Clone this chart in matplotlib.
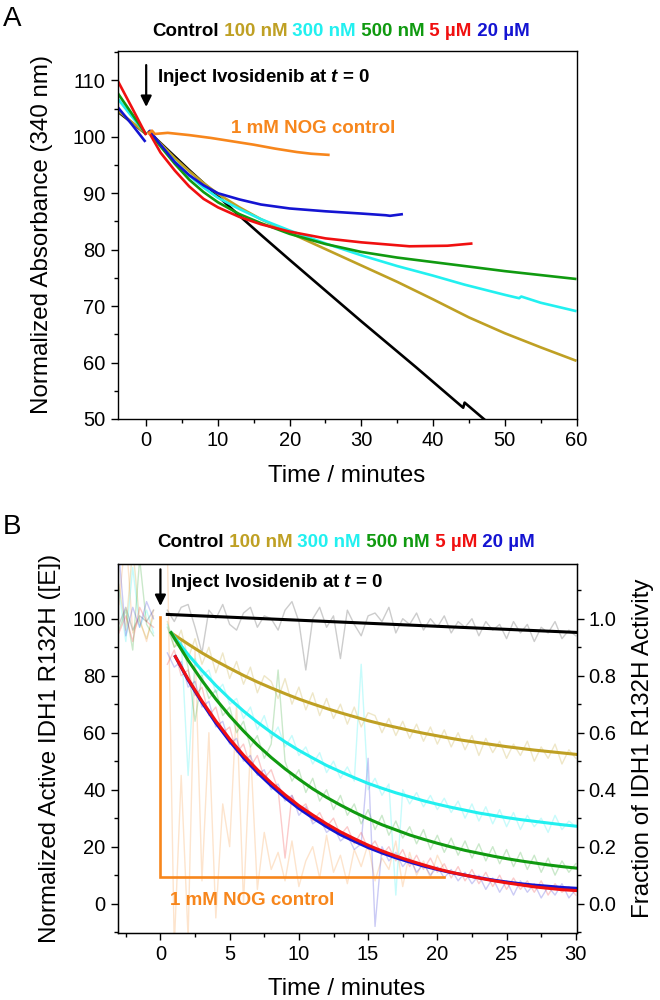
import numpy as np
import matplotlib
matplotlib.use("Agg")
from matplotlib import pyplot as plt
from matplotlib.ticker import MultipleLocator, FormatStrFormatter

plt.rcParams['font.family'] = ['Liberation Sans', 'DejaVu Sans']
plt.rcParams['mathtext.fontset'] = 'custom'
plt.rcParams['mathtext.rm'] = 'Liberation Sans:bold'
plt.rcParams['mathtext.it'] = 'Liberation Sans:italic:bold'
plt.rcParams['mathtext.bf'] = 'Liberation Sans:bold'

# colours of the six conditions + NOG control
c_ctrl = 'black'
c_100 = '#BFA024'
c_300 = '#22F0F0'
c_500 = '#109A10'
c_5u = '#F01010'
c_20u = '#1414D2'
c_nog = '#F7861C'

header_words = ['Control', '100 nM', '300 nM', '500 nM', '5 \u00b5M', '20 \u00b5M']
header_colors = [c_ctrl, c_100, c_300, c_500, c_5u, c_20u]

# ---------------- panel A : absorbance traces ----------------
pre_t = [-4, -2, 0]
pre_ctrl = [104.5, 102.5, 100.5]
pre_100 = [104.7, 102.6, 100.5]
pre_300 = [106.8, 103.6, 100.5]
pre_500 = [107.8, 104.1, 100.4]
pre_5u = [110.0, 105.2, 100.3]
pre_20u_t = [-4, -2, -0.1]
pre_20u = [105.3, 102.2, 99.1]

a_ctrl_t = [0.3, 2, 4, 6, 8, 10, 13, 16.2, 20, 25.5, 30, 37.6, 44.2, 44.4, 48]
a_ctrl = [101, 98.9, 96.5, 94.1, 91.8, 89.5, 86.0, 82.4, 78.2, 72.2, 67.3, 59.2, 52.0, 52.9, 49.0]
a_100_t = [0.3, 2, 4, 6, 8, 10, 13, 16, 20, 25, 30, 35, 40, 45, 50, 55, 60]
a_100 = [101, 98.8, 96.2, 93.9, 91.8, 89.9, 87.5, 85.4, 83.0, 80.1, 77.2, 74.3, 71.2, 68.0, 65.2, 62.7, 60.3]
a_300_t = [0.3, 2, 4, 6, 8, 10, 13, 16, 20, 25, 30, 35, 40, 44.4, 50, 52, 52.3, 55, 60]
a_300 = [101, 98.5, 95.6, 93.1, 91.0, 89.2, 87.2, 85.4, 83.4, 81.1, 79.0, 77.1, 75.4, 73.8, 72.0, 71.4, 71.7, 70.6, 69.1]
a_500_t = [0.3, 2, 4, 6, 8, 10, 13, 16, 20, 25, 30, 35, 40, 44.4, 50, 55, 60]
a_500 = [101, 98.3, 95.2, 92.4, 90.2, 88.4, 86.3, 84.7, 82.8, 81.0, 79.6, 78.6, 77.8, 77.1, 76.2, 75.5, 74.8]
a_5u_t = [0.3, 2, 4, 6, 8, 10, 13, 16, 20, 25, 30, 36.7, 42, 45.5]
a_5u = [101, 97.2, 94.0, 91.2, 89.0, 87.5, 85.8, 84.5, 83.2, 82.0, 81.3, 80.6, 80.7, 81.1]
a_20u_t = [0.4, 2, 4, 6, 8, 10, 13, 16, 20, 25, 30, 33.4, 34, 35.8]
a_20u = [101.2, 98.6, 95.5, 93.2, 91.4, 90.0, 88.9, 88.0, 87.3, 86.8, 86.4, 86.1, 86.0, 86.3]
a_nog_t = [0.4, 0.8, 1.2, 3, 6, 9, 12, 15, 18, 21, 23, 25.4]
a_nog = [100.6, 101.1, 100.5, 100.7, 100.3, 99.8, 99.2, 98.6, 97.9, 97.3, 97.0, 96.8]

# ---------------- panel B : active enzyme, raw + fits ----------------
raw_pre_t = [-3, -2.5, -2, -1.5, -1, -0.5]
raw_t = np.arange(1, 61) * 0.5          # 0.5 ... 30 min
nog_raw_t = np.arange(1, 42) * 0.5      # 0.5 ... 20.5 min

raw_pre_ctrl = [98, 104, 96, 101, 99, 103]
raw_ctrl = [103, 99, 104, 105, 97, 88, 103, 100, 105, 98,
            96, 102, 104, 97, 101, 100, 96, 103, 106, 99,
            82, 100, 104, 97, 101, 86, 103, 98, 94, 101,
            102, 99, 104, 95, 100, 98, 102, 96, 100, 97,
            101, 95, 99, 97, 100, 94, 99, 96, 98, 93,
            99, 95, 98, 92, 97, 95, 99, 93, 96, 94]
raw_pre_100 = [112, 96, 125, 99, 93, 101]
raw_100 = [99, 90, 96, 86, 93, 84, 90, 81, 88, 79,
           85, 77, 83, 74, 80, 78, 72, 79, 70, 76,
           68, 74, 66, 72, 65, 70, 63, 69, 62, 67,
           66, 60, 65, 59, 64, 58, 63, 57, 62, 56,
           61, 55, 60, 54, 59, 52, 58, 53, 57, 51,
           56, 52, 57, 50, 55, 51, 56, 49, 54, 51]
raw_pre_300 = [110, 92, 118, 97, 103, 95]
raw_300 = [98, 92, 93, 45, 86, 80, 82, 74, 77, 70,
           72, 65, 69, 61, 66, 58, 62, 55, 59, 52,
           55, 49, 53, 46, 50, 44, 48, 43, 84, 40,
           44, 38, 42, 3, 40, 35, 39, 34, 38, 33,
           37, 32, 36, 30, 35, 29, 34, 28, 33, 27,
           32, 26, 31, 27, 30, 25, 31, 26, 29, 27]
raw_pre_500 = [96, 103, 89, 121, 98, 94]
raw_500 = [97, 90, 92, 83, 64, 80, 72, 75, 66, 69,
           60, 64, 55, 59, 51, 56, 82, 50, 43, 47,
           39, 44, 36, 40, 33, 38, 31, 35, 28, 33,
           26, 31, 24, 29, 23, 27, 21, 26, 19, 24,
           18, 23, 17, 22, 16, 21, 15, 20, 14, 19,
           13, 18, 12, 17, 11, 16, 10, 15, 11, 14]
raw_pre_5u = [95, 101, 92, 104, 99, 97]
raw_5u = [84, 89, 80, 82, 73, 76, 66, 69, 60, 62,
          53, 56, 48, 52, 44, 47, 40, 16, 38, 33,
          35, 29, 32, 27, 30, 24, 27, 21, 25, 19,
          22, 17, 20, 15, 19, 13, 17, 12, 16, 11,
          14, 9, 13, 8, 12, 7, 11, 6, 10, 5,
          9, 5, 8, 4, 8, 3, 7, 4, 6, 3]
raw_pre_20u = [123, 94, 104, 97, 106, 100]
raw_20u = [88, 83, 85, 76, 78, 69, 71, 62, 64, 56,
           58, 50, 52, 45, 47, 40, 42, 36, 38, 31,
           34, 28, 30, 25, 27, 22, 24, 19, 21, 51,
           -8, 20, 15, 18, 13, 16, 11, 14, 10, 13,
           9, 12, 8, 11, 7, 10, 5, 9, 4, 8,
           3, 8, 4, 7, 2, 6, 3, 7, 2, 5]
raw_pre_nog = [105, 130, 95, 100, 92, 103]
raw_nog = [125, -15, 45, -12, 90, 8, 60, -5, 35, 20,
           70, 0, 55, 5, 25, 12, 18, 8, 22, 6,
           15, 20, 9, 24, 11, 17, 7, 19, 13, 21,
           8, 16, 12, 22, 6, 18, 10, 15, 9, 17, 12]

ctrl_fit_t = [0.5, 30]
ctrl_fit = [101.5, 95.2]
fit_t = [0.77] + list(range(1, 31))
fit_100 = [95.1, 94.3, 91.1, 88.0, 85.2, 82.6, 80.1, 77.8, 75.7, 73.7, 71.8, 70.1, 68.5, 67.0, 65.6, 64.2,
           63.0, 61.9, 60.8, 59.8, 58.9, 58.0, 57.2, 56.5, 55.8, 55.1, 54.5, 53.9, 53.4, 52.9, 52.4]
fit_300 = [95.1, 93.6, 87.4, 81.8, 76.6, 71.9, 67.6, 63.7, 60.1, 56.8, 53.8, 51.1, 48.5, 46.3, 44.2, 42.2,
           40.5, 38.9, 37.5, 36.1, 34.9, 33.8, 32.8, 31.8, 31.0, 30.2, 29.5, 28.9, 28.3, 27.7, 27.2]
fit_500 = [95.1, 93.2, 85.4, 78.3, 71.8, 65.9, 60.6, 55.7, 51.3, 47.3, 43.7, 40.3, 37.3, 34.6, 32.1, 29.8,
           27.7, 25.9, 24.1, 22.6, 21.2, 19.9, 18.7, 17.7, 16.7, 15.8, 15.0, 14.3, 13.6, 13.0, 12.5]
fit2_t = [1.08] + list(range(2, 31))
fit_5u = [86.7, 78.8, 71.1, 64.1, 57.8, 52.1, 47.0, 42.4, 38.2, 34.4, 31.1, 28.0, 25.2, 22.8, 20.5,
          18.5, 16.7, 15.1, 13.6, 12.2, 11.0, 10.0, 9.0, 8.1, 7.3, 6.6, 5.9, 5.4, 4.9, 4.6]
fit_20u = [86.7, 78.5, 70.6, 63.4, 57.0, 51.2, 46.0, 41.4, 37.2, 33.4, 30.1, 27.0, 24.2, 21.9, 19.7,
           17.8, 16.1, 14.6, 13.2, 12.0, 10.9, 10.0, 9.1, 8.3, 7.6, 7.0, 6.5, 6.1, 5.7, 5.4]
nog_step_t = [0, 0, 20.5]
nog_step = [100.5, 9.5, 9.5]

TICK_FS = 14.5
LABEL_FS = 17.4
NOTE_FS = 13.5


def style_axis(ax):
    for s in ax.spines.values():
        s.set_linewidth(1.0)
    ax.tick_params(which='both', direction='out', top=False, right=False,
                   labelsize=TICK_FS, width=1.0)
    ax.tick_params(which='major', length=5)
    ax.tick_params(which='minor', length=3)


def header(fig, x, y):
    t = fig.text(x, y, header_words[0], color=header_colors[0], fontsize=NOTE_FS,
                 fontweight='bold', va='bottom', ha='left')
    for w, c in zip(header_words[1:], header_colors[1:]):
        t = plt.annotate(' ' + w, xy=(1, 0), xycoords=t, color=c, fontsize=NOTE_FS,
                         fontweight='bold', va='bottom', ha='left', annotation_clip=False)


def join(pre_x, pre_y, x, y):
    return (np.concatenate([pre_x, [0], x]),
            np.concatenate([pre_y, [np.nan], y]))


fig = plt.figure(figsize=(6.6, 10), dpi=100)

# ---------- A ----------
axA = fig.add_axes([117.5 / 660, 1 - 419 / 1000, 459 / 660, 368 / 1000])
style_axis(axA)
lw = 1.9
for px, py, x, y, c in [(pre_t, pre_ctrl, a_ctrl_t, a_ctrl, c_ctrl),
                        (pre_t, pre_100, a_100_t, a_100, c_100),
                        (pre_t, pre_300, a_300_t, a_300, c_300),
                        (pre_t, pre_500, a_500_t, a_500, c_500),
                        (pre_20u_t, pre_20u, a_20u_t, a_20u, c_20u),
                        (pre_t, pre_5u, a_5u_t, a_5u, c_5u)]:
    axA.plot(px, py, color=c, lw=lw, solid_capstyle='butt')
    axA.plot(x, y, color=c, lw=lw, solid_capstyle='butt')
axA.plot(a_nog_t, a_nog, color=c_nog, lw=lw)

axA.set_xlim(-4, 60)
axA.set_ylim(50, 115.2)
axA.xaxis.set_major_locator(MultipleLocator(10))
axA.xaxis.set_minor_locator(MultipleLocator(5))
axA.yaxis.set_major_locator(MultipleLocator(10))
axA.yaxis.set_minor_locator(MultipleLocator(5))
axA.set_xlabel('Time / minutes', fontsize=LABEL_FS)
axA.set_ylabel('Normalized Absorbance (340 nm)', fontsize=LABEL_FS)
axA.xaxis.set_label_coords(0.5, -0.125)
axA.yaxis.set_label_coords(-0.141, 0.5)

axA.annotate('', xy=(0, 104.8), xytext=(0, 113.2),
             arrowprops=dict(arrowstyle='-|>', color='black', lw=1.6, mutation_scale=16))
axA.text(1.55, 109.7, 'Inject Ivosidenib at $t$ = 0', fontsize=NOTE_FS, fontweight='bold',
         va='baseline', ha='left')
axA.text(11.8, 100.7, '1 mM NOG control', fontsize=NOTE_FS, fontweight='bold',
         color=c_nog, va='baseline', ha='left')

# ---------- B ----------
axB = fig.add_axes([117.5 / 660, 1 - 933 / 1000, 459 / 660, 369 / 1000])
style_axis(axB)
raw_lw = 1.0
for px, py, x, y, c, a in [(raw_pre_t, raw_pre_nog, nog_raw_t, raw_nog, c_nog, 0.22),
                           (raw_pre_t, raw_pre_ctrl, raw_t, raw_ctrl, '#9a9a9a', 0.5),
                           (raw_pre_t, raw_pre_100, raw_t, raw_100, c_100, 0.25),
                           (raw_pre_t, raw_pre_300, raw_t, raw_300, c_300, 0.25),
                           (raw_pre_t, raw_pre_500, raw_t, raw_500, c_500, 0.22),
                           (raw_pre_t, raw_pre_5u, raw_t, raw_5u, c_5u, 0.22),
                           (raw_pre_t, raw_pre_20u, raw_t, raw_20u, c_20u, 0.22)]:
    xx, yy = join(px, py, x, y)
    axB.plot(xx, yy, color=c, lw=raw_lw, alpha=a)

flw = 2.2
axB.plot(nog_step_t, nog_step, color=c_nog, lw=1.9, solid_joinstyle='miter')
axB.plot(ctrl_fit_t, ctrl_fit, color=c_ctrl, lw=flw)
axB.plot(fit_t, fit_100, color=c_100, lw=flw)
axB.plot(fit_t, fit_300, color=c_300, lw=flw)
axB.plot(fit_t, fit_500, color=c_500, lw=flw)
axB.plot(fit2_t, fit_20u, color=c_20u, lw=flw)
axB.plot(fit2_t, fit_5u, color=c_5u, lw=flw)

axB.set_xlim(-3.1, 30.05)
axB.set_ylim(-10.3, 119.2)
axB.xaxis.set_major_locator(MultipleLocator(5))
axB.xaxis.set_minor_locator(MultipleLocator(2.5))
axB.yaxis.set_major_locator(MultipleLocator(20))
axB.yaxis.set_minor_locator(MultipleLocator(10))
axB.set_xlabel('Time / minutes', fontsize=LABEL_FS)
axB.set_ylabel('Normalized Active IDH1 R132H ([E])', fontsize=LABEL_FS)
axB.xaxis.set_label_coords(0.5, -0.123)
axB.yaxis.set_label_coords(-0.124, 0.5)

axR = axB.twinx()
axR.set_ylim(-0.103, 1.192)
axR.yaxis.set_major_locator(MultipleLocator(0.2))
axR.yaxis.set_minor_locator(MultipleLocator(0.1))
axR.yaxis.set_major_formatter(FormatStrFormatter('%.1f'))
axR.tick_params(which='both', direction='out', labelsize=TICK_FS, width=1.0)
axR.tick_params(which='major', length=5)
axR.tick_params(which='minor', length=3)
axR.set_ylabel('Fraction of IDH1 R132H Activity', fontsize=LABEL_FS)
axR.yaxis.set_label_coords(1.122, 0.5)

axB.annotate('', xy=(0, 103.5), xytext=(0, 118.3),
             arrowprops=dict(arrowstyle='-|>', color='black', lw=1.6, mutation_scale=16))
axB.text(0.67, 111.0, 'Inject Ivosidenib at $t$ = 0', fontsize=NOTE_FS, fontweight='bold',
         va='baseline', ha='left')
axB.text(0.72, -0.5, '1 mM NOG control', fontsize=NOTE_FS, fontweight='bold',
         color=c_nog, va='baseline', ha='left')

# headers and panel letters
header(fig, 152 / 660, 1 - 40 / 1000)
header(fig, 157 / 660, 1 - 551 / 1000)
fig.text(0.004, 0.994, 'A', fontsize=20, va='top', ha='left')
fig.text(0.004, 0.486, 'B', fontsize=20, va='top', ha='left')

fig.savefig('out.png', dpi=100)
